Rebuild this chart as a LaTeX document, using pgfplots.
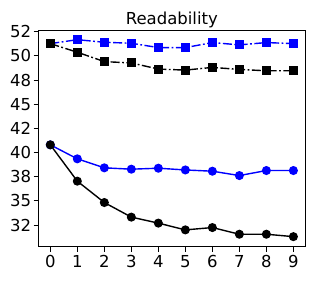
\documentclass[border=0pt]{standalone}
\usepackage{pgfplots}
\pgfplotsset{compat=1.18}
\usepackage{fontspec}
\setmainfont{DejaVu Sans}
\begin{document}
\begin{tikzpicture}
\begin{axis}[
  name=ax,
  scale only axis,
  width=266.3pt, height=216.7pt,
  xmin=-0.43, xmax=9.43,
  ymin=30.26, ymax=52.68,
  xtick={0,...,9},
  ytick={32.5,35,37.5,40,42.5,45,47.5,50,52.5},
  yticklabels={32,35,38,40,42,45,48,50,52},
  tick align=outside,
  tick pos=left,
  major tick length=5pt,
  tick style={black, line width=0.9pt},
  axis line style={line width=0.9pt},
  font=\fontsize{16.5}{18}\selectfont,
  tick label style={font=\fontsize{16.5}{18}\selectfont},
  yticklabel style={xshift=1pt},
  xticklabel style={yshift=0pt},
  /pgf/number format/assume math mode=true,
  title={Readability},
  title style={font=\fontsize{16.5}{18}\selectfont, at={(0.5,1)}, anchor=base, inner sep=0pt, yshift=-1pt},
]
\addplot[blue, line width=1.4pt, dash pattern=on 9pt off 2.5pt on 1.8pt off 2.5pt, mark=square*, mark size=3.8pt, mark options={solid}]
  coordinates {(0,51.27)(1,51.68)(2,51.41)(3,51.31)(4,50.86)(5,50.86)(6,51.38)(7,51.14)(8,51.38)(9,51.27)};
\addplot[black, line width=1.4pt, dash pattern=on 9pt off 2.5pt on 1.8pt off 2.5pt, mark=square*, mark size=3.8pt, mark options={solid}]
  coordinates {(0,51.27)(1,50.38)(2,49.41)(3,49.27)(4,48.64)(5,48.53)(6,48.81)(7,48.6)(8,48.46)(9,48.46)};
\addplot[blue, line width=1.4pt, mark=*, mark size=3.8pt]
  coordinates {(0,40.8)(1,39.35)(2,38.42)(3,38.28)(4,38.38)(5,38.2)(6,38.07)(7,37.62)(8,38.14)(9,38.14)};
\addplot[black, line width=1.4pt, mark=*, mark size=3.8pt]
  coordinates {(0,40.8)(1,37.04)(2,34.83)(3,33.32)(4,32.7)(5,32.0)(6,32.24)(7,31.55)(8,31.55)(9,31.3)};
\end{axis}
\pgfresetboundingbox
\path ([shift={(-38.7pt,-34.3pt)}]ax.south west) rectangle ([shift={(11pt,30pt)}]ax.north east);
\end{tikzpicture}
\end{document}
